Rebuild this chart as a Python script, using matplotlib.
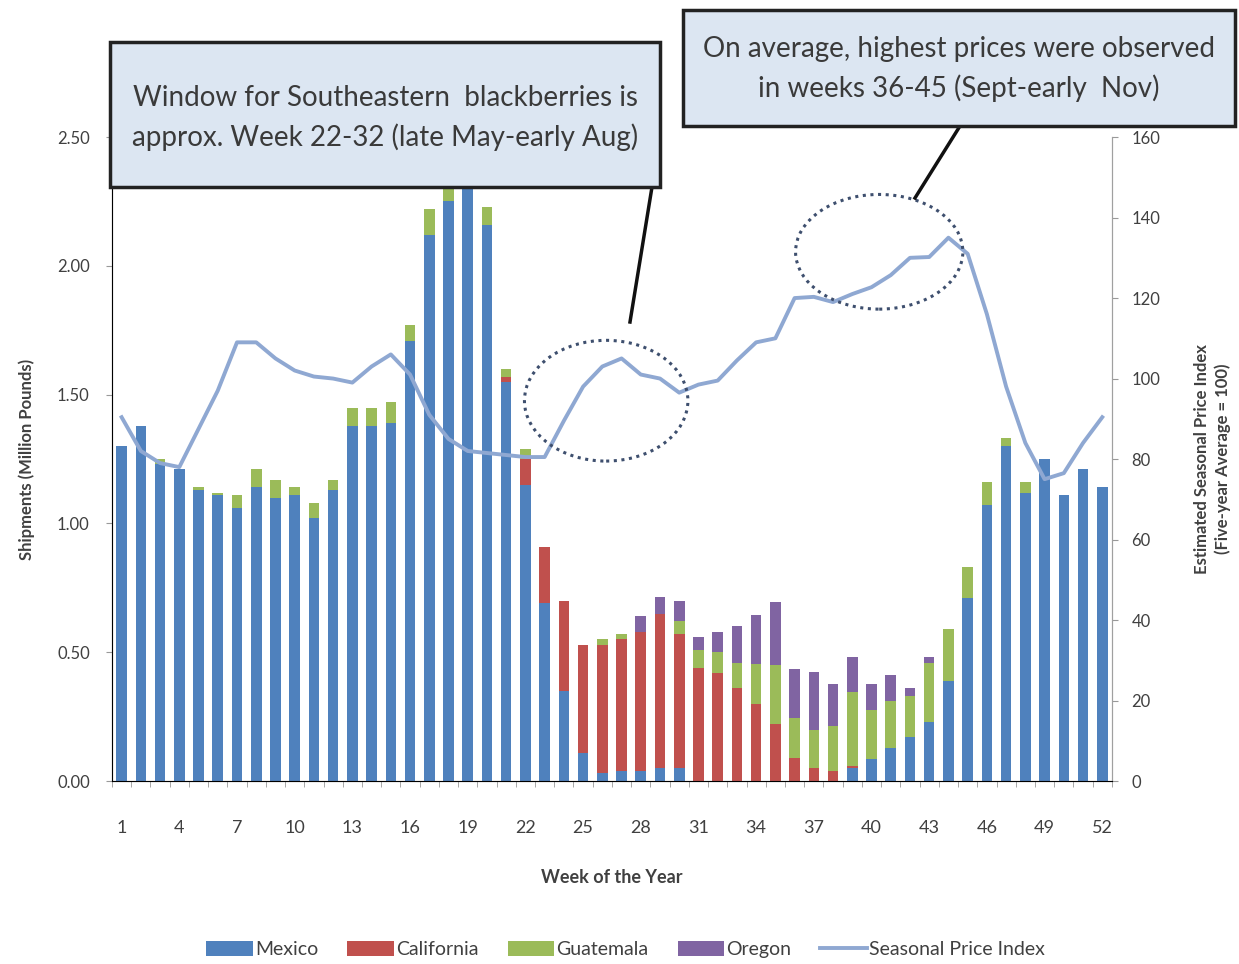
import numpy as np
import matplotlib
matplotlib.use("Agg")
import matplotlib.pyplot as plt
from matplotlib.patches import Ellipse, Rectangle, Patch
from matplotlib.lines import Line2D

plt.rcParams['font.family'] = ['Lato', 'DejaVu Sans']

weeks = np.arange(1, 53)

# shipments, million pounds
mexico = [1.30, 1.38, 1.23, 1.21, 1.13, 1.11, 1.06, 1.14, 1.10, 1.11,
          1.02, 1.13, 1.38, 1.38, 1.39, 1.71, 2.12, 2.25, 2.33, 2.16,
          1.55, 1.15, 0.69, 0.35, 0.11, 0.03, 0.04, 0.04, 0.05, 0.05,
          0.00, 0.00, 0.00, 0.00, 0.00, 0.00, 0.00, 0.00, 0.05, 0.085,
          0.13, 0.17, 0.23, 0.39, 0.71, 1.07, 1.30, 1.12, 1.25, 1.11,
          1.21, 1.14]
california = [0, 0, 0, 0, 0, 0, 0, 0, 0, 0,
              0, 0, 0, 0, 0, 0, 0, 0, 0, 0,
              0.02, 0.10, 0.22, 0.35, 0.42, 0.50, 0.51, 0.54, 0.60, 0.52,
              0.44, 0.42, 0.36, 0.30, 0.22, 0.09, 0.05, 0.04, 0.01, 0,
              0, 0, 0, 0, 0, 0, 0, 0, 0, 0,
              0, 0]
guatemala = [0, 0, 0.02, 0, 0.01, 0.01, 0.05, 0.07, 0.07, 0.03,
             0.06, 0.04, 0.07, 0.07, 0.08, 0.06, 0.10, 0.06, 0, 0.07,
             0.03, 0.04, 0, 0, 0, 0.02, 0.02, 0, 0, 0.05,
             0.07, 0.08, 0.10, 0.155, 0.23, 0.155, 0.15, 0.175, 0.285, 0.19,
             0.18, 0.16, 0.23, 0.20, 0.12, 0.09, 0.03, 0.04, 0, 0,
             0, 0]
oregon = [0, 0, 0, 0, 0, 0, 0, 0, 0, 0,
          0, 0, 0, 0, 0, 0, 0, 0, 0, 0,
          0, 0, 0, 0, 0, 0, 0, 0.06, 0.065, 0.08,
          0.05, 0.08, 0.14, 0.19, 0.245, 0.19, 0.225, 0.16, 0.135, 0.10,
          0.10, 0.03, 0.02, 0, 0, 0, 0, 0, 0, 0,
          0, 0]
price_index = [90.4, 82, 79, 78, 87.5, 97, 109, 109, 105, 102,
               100.5, 100, 99, 103, 106, 101, 91, 85, 82, 81.5,
               81, 80.5, 80.5, 89.5, 98, 103, 105, 101, 100, 96.5,
               98.5, 99.5, 104.5, 109, 110, 120, 120.3, 119, 121, 122.7,
               125.7, 130, 130.2, 135, 131, 116, 98, 84, 75, 76.5,
               84, 90.4]

series = [("Mexico", mexico, "#4F81BD"),
          ("California", california, "#C0504D"),
          ("Guatemala", guatemala, "#9BBB59"),
          ("Oregon", oregon, "#8064A2")]
line_color = "#8FA8D2"
txt = "#404040"

fig = plt.figure(figsize=(12.39, 9.64), dpi=100)
ax = fig.add_axes([0.0904, 0.1898, 0.807, 0.668])

bottom = np.zeros(len(weeks))
for name, vals, col in series:
    vals = np.array(vals)
    ax.bar(weeks, vals, width=0.55, bottom=bottom, color=col, label=name, zorder=2)
    bottom += vals

ax.set_xlim(0.5, 52.5)
ax.set_ylim(0, 2.5)
ax.set_yticks(np.arange(0, 2.51, 0.5))
ax.set_yticklabels(["%.2f" % v for v in np.arange(0, 2.51, 0.5)])
ax.set_xticks(np.arange(1, 53, 3))
ax.set_xticks(np.arange(0.5, 53, 1), minor=True)
ax.tick_params(axis='x', which='major', length=0, pad=28, labelsize=13, labelcolor=txt)
ax.tick_params(axis='x', which='minor', length=4, color="#999999")
ax.tick_params(axis='y', length=4, color="#999999", labelsize=12, labelcolor=txt, pad=12)
ax.spines['top'].set_visible(False)
for s in ['left', 'bottom', 'right']:
    ax.spines[s].set_color("#A0A0A0")
ax.set_ylabel("Shipments (Million Pounds)", fontsize=12, fontweight='bold', color=txt, labelpad=16)
ax.set_xlabel("Week of the Year", fontsize=13, fontweight='bold', color=txt, labelpad=24)

ax2 = ax.twinx()
ax2.plot(weeks, price_index, color=line_color, lw=2.8, zorder=3)
ax2.set_ylim(0, 160)
ax2.set_yticks(np.arange(0, 161, 20))
ax2.tick_params(axis='y', length=4, color="#999999", labelsize=12, labelcolor=txt, pad=10)
ax2.spines['top'].set_visible(False)
ax2.spines['right'].set_color("#A0A0A0")
ax2.set_ylabel("Estimated Seasonal Price Index\n(Five-year Average = 100)", fontsize=12,
               fontweight='bold', color=txt, labelpad=24, linespacing=1.35)

# dotted ellipses around the highlighted periods
ax2.add_patch(Ellipse((26.2, 94.5), 8.5, 30, fill=False, ls=(0, (1, 1.5)), lw=2.2,
                      edgecolor="#3E4F6E", zorder=4))
ax2.add_patch(Ellipse((40.4, 131.5), 8.7, 28.5, fill=False, ls=(0, (1, 1.5)), lw=2.2,
                      edgecolor="#3E4F6E", zorder=4))

# callout boxes (figure pixel coords -> fraction)
W, H = 1239.0, 964.0
def fx(px):
    return px / W
def fy(py):
    return 1 - py / H

boxes = [((110, 42, 660, 187), "Window for Southeastern  blackberries is\napprox. Week 22-32 (late May-early Aug)",
          ((652, 187), (630, 322)), 118),
         ((683, 10, 1235, 126), "On average, highest prices were observed\nin weeks 36-45 (Sept-early  Nov)",
          ((960, 126), (915, 198)), 69)]
for (x0, y0, x1, y1), label, ((lx0, ly0), (lx1, ly1)), ty in boxes:
    fig.add_artist(Line2D([fx(lx0), fx(lx1)], [fy(ly0), fy(ly1)], color="#111111", lw=2.5,
                          transform=fig.transFigure, zorder=10))
    fig.add_artist(Rectangle((fx(x0), fy(y1)), fx(x1) - fx(x0), fy(y0) - fy(y1),
                             transform=fig.transFigure, facecolor="#DCE6F2",
                             edgecolor="#222222", lw=2.5, zorder=11))
    fig.text((fx(x0) + fx(x1)) / 2, fy(ty), label, ha='center', va='center',
             fontsize=20, color="#3A3A3A", linespacing=1.55, zorder=12)

handles = [Patch(facecolor=col, label=name) for name, _, col in series]
handles.append(Line2D([0], [0], color=line_color, lw=2.8, label="Seasonal Price Index"))
fig.legend(handles=handles, loc='center', bbox_to_anchor=(0.505, 0.015), ncol=5,
           frameon=False, fontsize=14, handlelength=2.4, handleheight=0.8,
           handletextpad=0.1, columnspacing=1.5, labelcolor=txt)

fig.savefig("out.png", dpi=100)
